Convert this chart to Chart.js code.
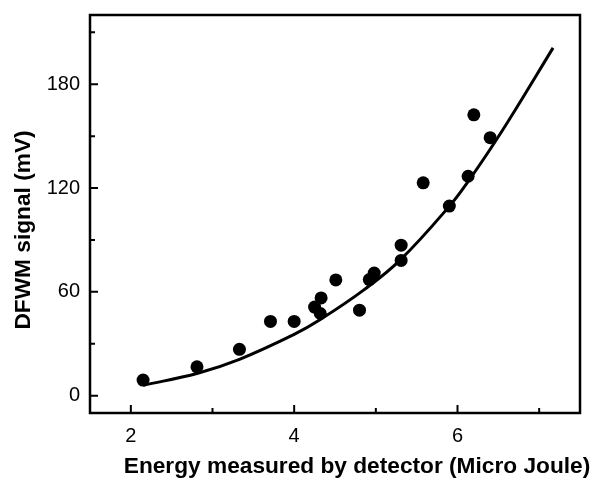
<!DOCTYPE html>
<html>
<head>
<meta charset="utf-8">
<script src="https://cdn.jsdelivr.net/npm/chart.js@4.4.1/dist/chart.umd.min.js"></script>
<style>
    html, body { margin: 0; padding: 0; background: #fff; }
    #wrap { width: 592px; height: 481px; }
</style>
</head>
<body>
<div id="wrap"><canvas id="dfwmChart" width="592" height="481"></canvas></div>
<script>
// measured points (energy in micro joule, signal in mV)
const energy = [2.15, 2.81, 3.33, 3.71, 4.00, 4.25, 4.33, 4.32, 4.51, 4.80, 4.92, 4.98, 5.31, 5.31, 5.58, 5.90, 6.13, 6.20, 6.40];
const signal = [9.0, 16.7, 26.8, 42.9, 42.9, 51.2, 56.5, 47.5, 66.9, 49.4, 67.1, 70.9, 87.0, 78.2, 123.0, 109.6, 126.8, 162.3, 149.1];

// fitted curve
const fitEnergy = [2.15, 2.82, 3.33, 4.0, 4.32, 4.85, 5.30, 5.90, 6.14, 6.39, 6.64, 7.17];
const fitSignal = [6, 13, 21, 35.4, 44, 61, 78.5, 109.5, 124.5, 141.7, 160, 201];

// axis ticks
const xMajor = [2, 4, 6];
const xMinor = [3, 5, 7];
const yMajor = [0, 60, 120, 180];
const yMinor = [30, 90, 150, 210];

const FONT = "'Liberation Sans', Arial, sans-serif";

// frame, inward ticks and axis titles
const framePlugin = {
    id: "frame",
    afterDraw(chart) {
        const { ctx, chartArea: a } = chart;
        const xs = chart.scales.x;
        const ys = chart.scales.y;
        ctx.save();
        ctx.strokeStyle = "#000";
        ctx.lineWidth = 2.5;
        ctx.strokeRect(a.left, a.top, a.right - a.left, a.bottom - a.top);

        ctx.lineWidth = 2;
        ctx.beginPath();
        xMajor.forEach(v => {
            const px = xs.getPixelForValue(v);
            ctx.moveTo(px, a.bottom); ctx.lineTo(px, a.bottom - 8);
        });
        xMinor.forEach(v => {
            const px = xs.getPixelForValue(v);
            ctx.moveTo(px, a.bottom); ctx.lineTo(px, a.bottom - 5);
        });
        yMajor.forEach(v => {
            const py = ys.getPixelForValue(v);
            ctx.moveTo(a.left, py); ctx.lineTo(a.left + 8, py);
        });
        yMinor.forEach(v => {
            const py = ys.getPixelForValue(v);
            ctx.moveTo(a.left, py); ctx.lineTo(a.left + 5, py);
        });
        ctx.stroke();

        ctx.fillStyle = "#000";
        ctx.font = "bold 22.7px " + FONT;
        ctx.textAlign = "center";
        ctx.textBaseline = "middle";
        ctx.fillText("Energy measured by detector (Micro Joule)", 357, 467);

        ctx.translate(24, 230);
        ctx.rotate(-Math.PI / 2);
        ctx.fillText("DFWM signal (mV)", 0, 0);
        ctx.restore();
    }
};

const ctx = document.getElementById("dfwmChart").getContext("2d");
new Chart(ctx, {
    type: "scatter",
    data: {
        datasets: [
            {
                label: "fit",
                data: fitEnergy.map((x, i) => ({ x: x, y: fitSignal[i] })),
                showLine: true,
                borderColor: "#000",
                borderWidth: 3,
                pointRadius: 0,
                tension: 0.4,
                fill: false
            },
            {
                label: "data",
                data: energy.map((x, i) => ({ x: x, y: signal[i] })),
                backgroundColor: "#000",
                borderColor: "#000",
                pointRadius: 6.5,
                pointBorderWidth: 0
            }
        ]
    },
    options: {
        responsive: false,
        animation: false,
        events: [],
        layout: { padding: { top: 15, right: 12, left: 0, bottom: 0 } },
        plugins: { legend: { display: false }, tooltip: { enabled: false } },
        scales: {
            x: {
                type: "linear",
                min: 1.5,
                max: 7.5,
                grid: { display: false, drawTicks: false },
                border: { display: false },
                afterBuildTicks: s => { s.ticks = xMajor.map(v => ({ value: v })); },
                afterFit: s => { s.height = 68; s.paddingLeft = 0; s.paddingRight = 0; },
                ticks: { color: "#000", padding: 11, font: { family: FONT, size: 20 } }
            },
            y: {
                type: "linear",
                min: -10,
                max: 220,
                grid: { display: false, drawTicks: false },
                border: { display: false },
                afterBuildTicks: s => { s.ticks = yMajor.map(v => ({ value: v })); },
                afterFit: s => { s.width = 90; s.paddingTop = 0; s.paddingBottom = 0; },
                ticks: { color: "#000", padding: 10, font: { family: FONT, size: 20 } }
            }
        }
    },
    plugins: [framePlugin]
});
</script>
</body>
</html>
